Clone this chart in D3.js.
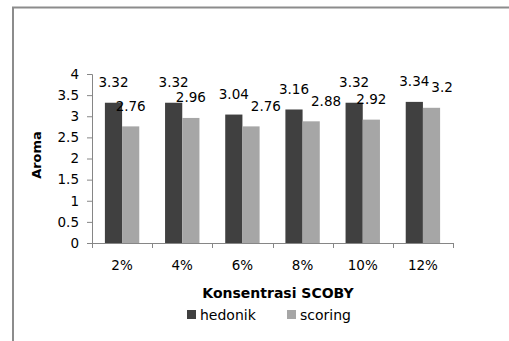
<!DOCTYPE html>
<html>
<head>
<meta charset="utf-8">
<script src="https://cdn.jsdelivr.net/npm/d3@7"></script>
<style>
  html, body { margin: 0; padding: 0; background: #fff; }
  svg { display: block; font-family: "DejaVu Sans", Verdana, sans-serif; }
</style>
</head>
<body>
<svg id="chart" width="509" height="341"></svg>
<script>
// Aroma scores per SCOBY concentration
const categories = ["2%", "4%", "6%", "8%", "10%", "12%"];
const seriesNames = ["hedonik", "scoring"];
const hedonik = [3.32, 3.32, 3.04, 3.16, 3.32, 3.34];
const scoring = [2.76, 2.96, 2.76, 2.88, 2.92, 3.2];
const yTicks = [0, 0.5, 1, 1.5, 2, 2.5, 3, 3.5, 4];
const colors = ["#404040", "#a6a6a6"];

const seriesValues = [hedonik, scoring];
const svg = d3.select("#chart");

// outer frame (top and left edges)
svg.append("path")
  .attr("d", "M13,341 V7.5 H509")
  .attr("fill", "none")
  .attr("stroke", "#8c8c8c")
  .attr("stroke-width", 2);

const plot = { left: 92, right: 453, top: 74, bottom: 243 };

const x = d3.scaleBand().domain(categories).range([plot.left, plot.right]).paddingInner(0).paddingOuter(0);
const inner = d3.scaleBand().domain(seriesNames).range([0, x.bandwidth()]).paddingInner(0).paddingOuter(0.75);
const y = d3.scaleLinear().domain([0, 4]).range([plot.bottom, plot.top]);

const labelGroups = [];

// bars and value labels
seriesNames.forEach((name, si) => {
  const g = svg.append("g");
  g.selectAll("rect").data(seriesValues[si]).enter().append("rect")
    .attr("x", (d, i) => x(categories[i]) + inner(name))
    .attr("y", d => y(d))
    .attr("width", inner.bandwidth())
    .attr("height", d => y(0) - y(d))
    .attr("fill", colors[si]);
  const labels = g.selectAll("text").data(seriesValues[si]).enter().append("text")
    .attr("x", (d, i) => x(categories[i]) + inner(name) + inner.bandwidth() / 2)
    .attr("y", d => y(d) - 15.5)
    .attr("text-anchor", "middle")
    .attr("font-size", 13.5)
    .attr("fill", "#000")
    .text(d => d);
  labelGroups.push(labels.nodes());
});

// push a scoring label to the right when it would collide with its hedonik neighbour
labelGroups[1].forEach((node, i) => {
  const a = labelGroups[0][i].getBBox();
  const b = node.getBBox();
  const overlapX = a.x + a.width - b.x;
  const overlapY = Math.min(a.y + a.height, b.y + b.height) - Math.max(a.y, b.y);
  if (overlapX > 0 && overlapY > 3) {
    node.setAttribute("x", +node.getAttribute("x") + overlapX + 2);
  }
});

// y axis
const yAxis = d3.axisLeft(y).tickValues(yTicks).tickSize(5).tickPadding(8).tickFormat(d => d);
const yg = svg.append("g").attr("transform", `translate(${plot.left},0)`).call(yAxis);
yg.select(".domain").attr("stroke", "#868686").attr("d", `M-5,${plot.top}.5H0.5V${plot.bottom}.5H-5`);
yg.selectAll(".tick line").attr("stroke", "#868686");
yg.selectAll(".tick text").attr("font-size", 13.5).attr("fill", "#000").attr("font-family", "DejaVu Sans, Verdana, sans-serif");

// x axis with ticks on category boundaries
const xg = svg.append("g").attr("transform", `translate(0,${plot.bottom})`);
xg.append("line").attr("x1", plot.left).attr("x2", plot.right).attr("y1", 0.5).attr("y2", 0.5).attr("stroke", "#868686");
const bounds = categories.map(c => x(c)).concat([plot.right]);
xg.selectAll("line.tk").data(bounds).enter().append("line").attr("class", "tk")
  .attr("x1", d => Math.round(d) + 0.5).attr("x2", d => Math.round(d) + 0.5)
  .attr("y1", 0).attr("y2", 5).attr("stroke", "#868686");
xg.selectAll("text").data(categories).enter().append("text")
  .attr("x", d => x(d) + x.bandwidth() / 2)
  .attr("y", 27)
  .attr("text-anchor", "middle")
  .attr("font-size", 13.5)
  .text(d => d);

// axis titles
svg.append("text")
  .attr("x", 278).attr("y", 298)
  .attr("text-anchor", "middle")
  .attr("font-size", 14).attr("font-weight", "bold")
  .text("Konsentrasi SCOBY");
svg.append("text")
  .attr("transform", "translate(41,155) rotate(-90)")
  .attr("text-anchor", "middle")
  .attr("font-size", 13).attr("font-weight", "bold")
  .text("Aroma");

// legend
const legendX = [187, 287];
const lg = svg.append("g");
seriesNames.forEach((name, i) => {
  lg.append("rect").attr("x", legendX[i]).attr("y", 310).attr("width", 9).attr("height", 9).attr("fill", colors[i]);
  lg.append("text").attr("x", legendX[i] + 13).attr("y", 320).attr("font-size", 14).text(name);
});
</script>
</body>
</html>
